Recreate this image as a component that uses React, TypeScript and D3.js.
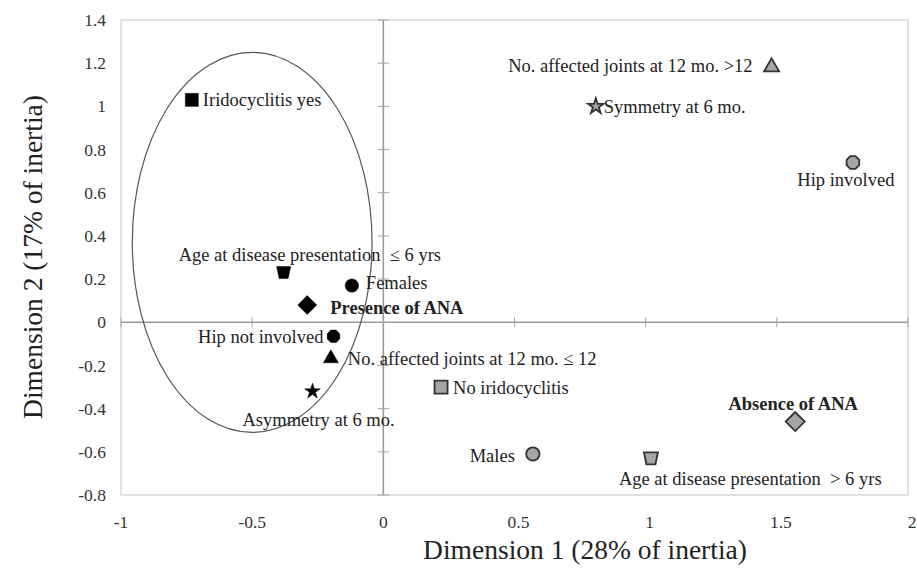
import React from "react";
import * as d3 from "d3";

// Correspondence analysis: category coordinates on the first two dimensions
const categories = [
  "Iridocyclitis yes",
  "No. affected joints at 12 mo. >12",
  "Symmetry at 6 mo.",
  "Hip involved",
  "Age at disease presentation  \u2264 6 yrs",
  "Females",
  "Presence of ANA",
  "Hip not involved",
  "No. affected joints at 12 mo. \u2264 12",
  "Asymmetry at 6 mo.",
  "No iridocyclitis",
  "Males",
  "Age at disease presentation  > 6 yrs",
  "Absence of ANA",
];
const dimension1 = [-0.73, 1.48, 0.81, 1.79, -0.38, -0.12, -0.29, -0.19, -0.2, -0.27, 0.22, 0.57, 1.02, 1.57];
const dimension2 = [1.03, 1.19, 1.0, 0.74, 0.23, 0.17, 0.08, -0.065, -0.16, -0.32, -0.3, -0.61, -0.63, -0.46];

const xTicks = [-1, -0.5, 0, 0.5, 1, 1.5, 2];
const yTicks = [1.4, 1.2, 1, 0.8, 0.6, 0.4, 0.2, 0, -0.2, -0.4, -0.6, -0.8];

// Cluster ellipse (data units)
const ellipseCenter = [-0.5, 0.37];
const ellipseRadii = [0.457, 0.88];

// Marker shape, fill and label placement per category
type Style = { shape: string; dark: boolean; dx: number; dy: number; anchor: string; bold?: boolean };
const styles: Style[] = [
  { shape: "square", dark: true, dx: 11, dy: 0, anchor: "start" },
  { shape: "triangle", dark: false, dx: -19, dy: 0, anchor: "end" },
  { shape: "star", dark: false, dx: 8, dy: 0, anchor: "start" },
  { shape: "octagon", dark: false, dx: -7, dy: 17, anchor: "middle" },
  { shape: "trapezoid", dark: true, dx: -105, dy: -18, anchor: "start" },
  { shape: "circle", dark: true, dx: 14, dy: -3, anchor: "start" },
  { shape: "diamond", dark: true, dx: 23, dy: 3, anchor: "start", bold: true },
  { shape: "octagon", dark: true, dx: -10, dy: 0, anchor: "end" },
  { shape: "triangle", dark: true, dx: 17, dy: 2, anchor: "start" },
  { shape: "star", dark: true, dx: -70, dy: 28, anchor: "start" },
  { shape: "square", dark: false, dx: 12, dy: 0, anchor: "start" },
  { shape: "circle", dark: false, dx: -18, dy: 2, anchor: "end" },
  { shape: "trapezoid", dark: false, dx: -32, dy: 20, anchor: "start" },
  { shape: "diamond", dark: false, dx: -2, dy: -18, anchor: "middle", bold: true },
];

const W = 917;
const H = 574;
const FONT = "'Liberation Serif', 'Times New Roman', serif";

function shapePath(shape: string): string {
  switch (shape) {
    case "square":
      return "M-6.5,-6.5H6.5V6.5H-6.5Z";
    case "triangle":
      return "M0,-7L7.5,6H-7.5Z";
    case "diamond":
      return "M0,-9.5L9.5,0L0,9.5L-9.5,0Z";
    case "trapezoid":
      return "M-7,-6H7L4.5,6H-4.5Z";
    case "circle":
      return d3.symbol(d3.symbolCircle, 140)() as string;
    case "star":
      return d3.symbol(d3.symbolStar, 75)() as string;
    case "octagon": {
      const pts = d3.range(8).map((i) => {
        const a = (Math.PI / 8) * (2 * i + 1);
        return [6.8 * Math.cos(a), 6.8 * Math.sin(a)] as [number, number];
      });
      return (d3.line()(pts) as string) + "Z";
    }
  }
  return "";
}

export default function App() {
  const x = d3.scaleLinear().domain([-1, 2]).range([121, 908]);
  const y = d3.scaleLinear().domain([-0.8, 1.4]).range([495, 20]);

  const x0 = x(0);
  const y0 = y(0);

  return (
    <svg
      width={W}
      height={H}
      style={{ position: "absolute", left: 0, top: 0, background: "#fff" }}
      fontFamily={FONT}
    >
      {/* plot frame */}
      <rect x={x(-1)} y={y(1.4)} width={x(2) - x(-1)} height={y(-0.8) - y(1.4)} fill="none" stroke="#cdcdcd" strokeWidth={1.2} />

      {/* crossing axes */}
      <line x1={x(-1)} x2={x(2)} y1={y0} y2={y0} stroke="#9a9a9a" strokeWidth={1.6} />
      <line x1={x0} x2={x0} y1={y(1.4)} y2={y(-0.8)} stroke="#9a9a9a" strokeWidth={1.6} />
      {yTicks.map((t) => (
        <line key={"yt" + t} x1={x0 - 6} x2={x0 + 6} y1={y(t)} y2={y(t)} stroke="#a8a8a8" strokeWidth={1} />
      ))}
      {xTicks.map((t) => (
        <line key={"xt" + t} x1={x(t)} x2={x(t)} y1={y0 - 5} y2={y0 + 5} stroke="#a8a8a8" strokeWidth={1} />
      ))}

      {/* tick labels */}
      {yTicks.map((t) => (
        <text key={"yl" + t} x={106} y={y(t)} dy="0.35em" textAnchor="end" fontSize={17.5} fill="#333">
          {String(t)}
        </text>
      ))}
      {xTicks.map((t) => (
        <text key={"xl" + t} x={x(t) + (t > 0 ? 4 : 0)} y={522} dy="0.35em" textAnchor="middle" fontSize={17.5} fill="#333">
          {String(t)}
        </text>
      ))}

      {/* axis titles */}
      <text x={585} y={559} textAnchor="middle" fontSize={27.5} fill="#222">
        Dimension 1 (28% of inertia)
      </text>
      <text
        transform={`translate(42,257) rotate(-90)`}
        textAnchor="middle"
        fontSize={27.5}
        fill="#222"
      >
        Dimension 2 (17% of inertia)
      </text>

      {/* cluster ellipse */}
      <ellipse
        cx={x(ellipseCenter[0])}
        cy={y(ellipseCenter[1])}
        rx={x(ellipseCenter[0] + ellipseRadii[0]) - x(ellipseCenter[0])}
        ry={y(ellipseCenter[1]) - y(ellipseCenter[1] + ellipseRadii[1])}
        fill="none"
        stroke="#555"
        strokeWidth={1.2}
      />

      {/* category points and labels */}
      {categories.map((c, i) => {
        const s = styles[i];
        const px = x(dimension1[i]);
        const py = y(dimension2[i]);
        return (
          <g key={c}>
            <path
              d={shapePath(s.shape)}
              transform={`translate(${px},${py})`}
              fill={s.dark ? "#000" : "#a6a6a6"}
              stroke={s.dark ? "#000" : "#333"}
              strokeWidth={s.dark ? 0.5 : 1.8}
            />
            <text
              x={px + s.dx}
              y={py + s.dy}
              dy="0.35em"
              textAnchor={s.anchor}
              fontSize={18.5}
              fontWeight={s.bold ? "bold" : "normal"}
              fill="#222"
              style={{ whiteSpace: "pre" }}
            >
              {c}
            </text>
          </g>
        );
      })}
    </svg>
  );
}
